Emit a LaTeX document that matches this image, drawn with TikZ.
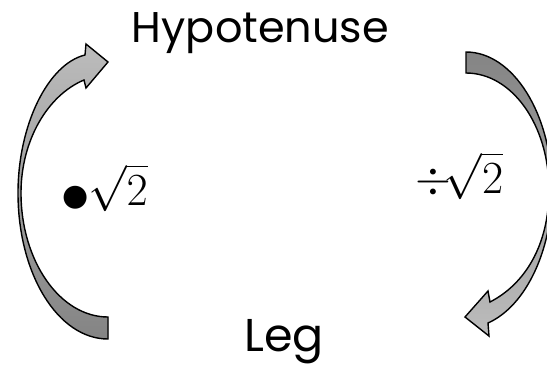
\RequirePackage{fix-cm}
\documentclass[tikz,border=0pt]{standalone}
\usepackage{fontspec}
\usepackage{amsmath}
\setsansfont{Poppins}
\newfontfamily\symfont{DejaVu Sans}
\definecolor{arrowlight}{RGB}{188,188,188}
\definecolor{arrowdark}{RGB}{132,132,132}
\tikzset{
  blockarrow/.style = {draw=black, line width=1.4pt, line join=miter},
  word/.style = {anchor=base, inner sep=0pt, font=\sffamily\fontsize{43}{50}\selectfont},
  op/.style = {anchor=base, inner sep=0pt, font=\fontsize{46}{52}\selectfont}
}

\begin{document}
\begin{tikzpicture}[x=1pt, y=-1pt]
            \useasboundingbox (0,0) rectangle (547,368);
            \clip (0,0) rectangle (547,368);

            \node[word] (hyp) at (260.5,42) {Hypotenuse};
            \node[word, font=\sffamily\fontsize{46}{52}\selectfont] (leg) at (284,351) {Leg};
            \node[op] (times) at (105,205) {{\symfont\fontsize{30}{30}\selectfont ●}$\sqrt{2}$};
            \node[op] (divide) at (459.5,193) {$\div\!\sqrt{2}$};

            % leg up to hypotenuse
            \filldraw[blockarrow, top color=arrowlight, bottom color=arrowdark]
              (108,339) .. controls (58,339) and (18,274) .. (18,193)
                        .. controls (18,125) and (48,64) .. (85,55)
              -- (86,44) -- (108,62) -- (86,88) -- (84,80)
                        .. controls (48,95) and (21,140) .. (21,193)
                        .. controls (21,261) and (60,317) .. (108,317)
              -- cycle;

            % hypotenuse down to leg
            \filldraw[blockarrow, top color=arrowdark, bottom color=arrowlight]
              (466,52) .. controls (513,52) and (552,114) .. (552,190)
                       .. controls (552,250) and (526,306) .. (488,323)
              -- (489,336) -- (465,317) -- (488,291) -- (490,302)
                       .. controls (525,284) and (549,245) .. (549,190)
                       .. controls (549,125) and (512,73) .. (466,73)
              -- cycle;
        \end{tikzpicture}
\end{document}
